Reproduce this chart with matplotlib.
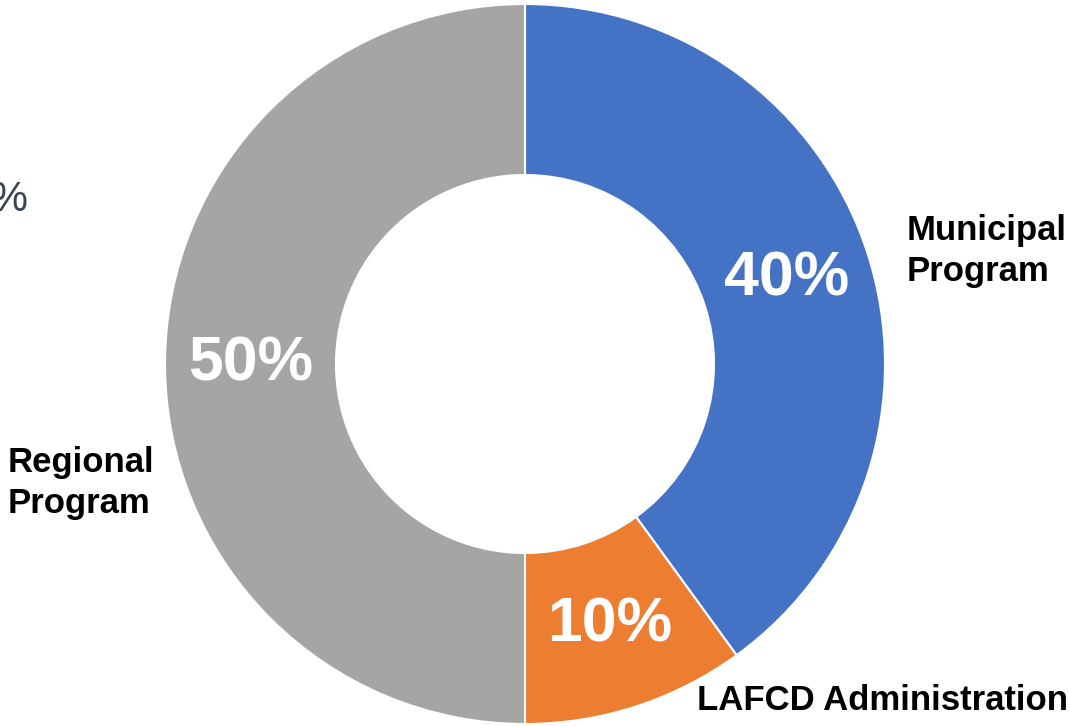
import matplotlib.pyplot as plt

categories = ["Municipal\nProgram", "LAFCD Administration", "Regional\nProgram"]
shares = [40, 10, 50]
colors = ["#4472C4", "#ED7D31", "#A5A5A5"]

W, H = 1070, 726
fig = plt.figure(figsize=(W / 100, H / 100), dpi=100)
ax = fig.add_axes([0, 0, 1, 1])

outer = 360
wedges, texts, autotexts = ax.pie(
    shares,
    colors=colors,
    startangle=90,
    counterclock=False,
    radius=outer,
    center=(525, H - 364),
    autopct="%.0f%%",
    pctdistance=0.763,
    wedgeprops=dict(width=outer * 0.475, edgecolor="white", linewidth=1.5),
    textprops=dict(family="Liberation Sans"),
)
for t in autotexts:
    t.set_color("white")
    t.set_fontsize(45)
    t.set_fontweight("bold")

ax.set_xlim(0, W)
ax.set_ylim(0, H)
ax.set_aspect("equal")
ax.axis("off")

# category labels beside the ring
label_pos = [(907, H - 251), (697, H - 701), (8, H - 483)]
for name, (x, y) in zip(categories, label_pos):
    ax.text(x, y, name, ha="left", va="center", fontsize=25, fontweight="bold",
            family="Liberation Sans", color="black", linespacing=1.32)

# clipped leftover glyph at the left edge
ax.text(28, H - 200, "%", ha="right", va="center", fontsize=30,
        family="Liberation Sans", color="#3B4456")

fig.savefig("out.png", dpi=100)
